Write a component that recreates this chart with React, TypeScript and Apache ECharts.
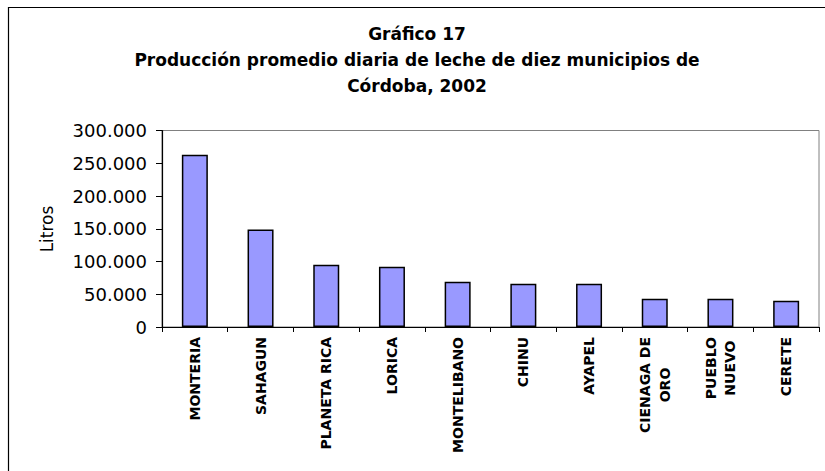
import React, { useEffect, useRef } from "react";
import * as echarts from "echarts";

const titleLines = [
  "Gráfico 17",
  "Producción promedio diaria de leche de diez municipios de",
  "Córdoba, 2002",
];
const yAxisName = "Litros";
const categories = [
  "MONTERIA",
  "SAHAGUN",
  "PLANETA RICA",
  "LORICA",
  "MONTELIBANO",
  "CHINU",
  "AYAPEL",
  "CIENAGA DE\nORO",
  "PUEBLO\nNUEVO",
  "CERETE",
];
const litros = [263000, 149000, 95000, 92000, 69000, 66000, 66000, 43000, 43000, 40000];
const yMin = 0;
const yMax = 300000;
const yInterval = 50000;

const FONT = "'DejaVu Sans', 'Liberation Sans', Arial, sans-serif";

export default function App() {
  const ref = useRef<HTMLDivElement>(null);
  useEffect(() => {
    document.body.style.margin = "0";
    if (!ref.current) return;
    const chart = echarts.init(ref.current, null, { renderer: "svg" });
    const titleGraphics = titleLines.map((t, i) => ({
      type: "text",
      x: 417,
      y: 34 + i * 26,
      style: {
        text: t,
        x: 0,
        y: 0,
        align: "center",
        verticalAlign: "middle",
        fontFamily: FONT,
        fontSize: 17,
        fontWeight: "bold",
        fill: "#000",
      },
    }));
    chart.setOption({
      animation: false,
      backgroundColor: "#ffffff",
      graphic: [
        {
          type: "rect",
          shape: { x: 8.5, y: 7.5, width: 900, height: 700 },
          style: { fill: "none", stroke: "#000", lineWidth: 1.2 },
          silent: true,
        },
        ...titleGraphics,
        {
          type: "text",
          x: 47,
          y: 229,
          rotation: Math.PI / 2,
          style: {
            text: yAxisName,
            x: 0,
            y: 0,
            align: "center",
            verticalAlign: "middle",
            fontFamily: FONT,
            fontSize: 17,
            fill: "#000",
          },
        },
      ],
      grid: {
        left: 162,
        right: 6,
        top: 130.5,
        bottom: 144,
        show: true,
        borderColor: "#808080",
        borderWidth: 1,
        backgroundColor: "transparent",
      },
      xAxis: {
        type: "category",
        data: categories,
        axisLine: { lineStyle: { color: "#000", width: 1.2 } },
        axisTick: { show: true, length: 5, inside: false, lineStyle: { color: "#000" } },
        axisLabel: {
          interval: 0,
          rotate: 90,
          margin: 10,
          formatter: (v: string) =>
            v
              .split("\n")
              .map((s) => `{c|${s}}`)
              .join("\n"),
          rich: {
            c: {
              align: "center",
              fontFamily: FONT,
              fontSize: 14,
              fontWeight: "bold",
              lineHeight: 19.5,
              color: "#000",
            },
          },
        },
        splitLine: { show: false },
      },
      yAxis: {
        type: "value",
        min: yMin,
        max: yMax,
        interval: yInterval,
        axisLine: { show: true, lineStyle: { color: "#000", width: 1.2 } },
        axisTick: { show: true, length: 6, lineStyle: { color: "#000" } },
        splitLine: { show: false },
        axisLabel: {
          margin: 15,
          fontFamily: FONT,
          fontSize: 18,
          color: "#000",
          formatter: (v: number) => String(v).replace(/\B(?=(\d{3})+(?!\d))/g, "."),
        },
      },
      series: [
        {
          type: "bar",
          data: litros,
          barWidth: 26,
          itemStyle: { color: "#9999FF", borderColor: "#000", borderWidth: 1.5 },
        },
      ],
    });
    return () => chart.dispose();
  }, []);
  return <div ref={ref} style={{ width: 825, height: 471 }} />;
}
